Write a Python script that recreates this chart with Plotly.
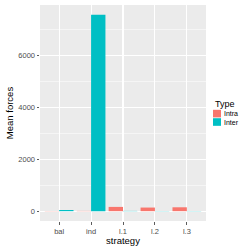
import plotly.graph_objects as go

strategy = ["bal", "ind", "l.1", "l.2", "l.3"]
intra = [8, 10, 165, 140, 150]
inter = [45, 7560, 10, 8, 8]
y_ticks = [0, 2000, 4000, 6000]
y_minor = [1000, 3000, 5000, 7000]
type_names = ["Intra", "Inter"]
type_colors = ["#F8766D", "#00BFC4"]

fig = go.Figure()
fig.add_bar(x=strategy, y=intra, name=type_names[0], marker=dict(color=type_colors[0], line=dict(width=0)))
fig.add_bar(x=strategy, y=inter, name=type_names[1], marker=dict(color=type_colors[1], line=dict(width=0)))

# panel in pixels: x 40..205.7, y 5..220.6
W, H = 249, 249
L, R, T, B = 40, 43.3, 5, 28.4
pw, ph = W - L - R, H - T - B

def px(x):
    return (x - L) / pw

def py(y):
    return (H - B - y) / ph

annotations = [dict(text="Type", x=px(212.2), y=py(103.5), xref="paper", yref="paper",
                    xanchor="left", yanchor="middle", showarrow=False,
                    font=dict(size=9, color="black"))]
shapes = []
for i, (nm, col) in enumerate(zip(type_names, type_colors)):
    top = 109.6 + i * 8.4
    shapes.append(dict(type="rect", xref="paper", yref="paper",
                       x0=px(212.7), x1=px(220.7), y0=py(top + 7.6), y1=py(top),
                       fillcolor=col, line=dict(width=0)))
    annotations.append(dict(text=nm, x=px(221.5), y=py(top + 3.8), xref="paper", yref="paper",
                            xanchor="left", yanchor="middle", showarrow=False,
                            font=dict(size=7, color="black")))

fig.update_layout(
    width=W, height=H,
    margin=dict(l=L, r=R, t=T, b=B, autoexpand=False, pad=0),
    paper_bgcolor="white", plot_bgcolor="#EBEBEB",
    barmode="group", bargap=0.1, bargroupgap=0,
    font=dict(family="Liberation Sans, Arial, sans-serif", size=7.5, color="#4D4D4D"),
    showlegend=False,
    annotations=annotations, shapes=shapes,
)
fig.update_xaxes(
    title=dict(text="strategy", font=dict(size=9.5, color="black"), standoff=1),
    showgrid=True, gridcolor="white", gridwidth=1.1,
    ticks="outside", ticklen=2.5, tickcolor="#333333", tickwidth=0.8,
    tickfont=dict(size=7.5, color="#4D4D4D"),
    zeroline=False, range=[-0.6, 4.6],
)
fig.update_yaxes(
    title=dict(text="Mean forces", font=dict(size=9.5, color="black"), standoff=2),
    range=[-378, 7938], tickvals=y_ticks,
    showgrid=True, gridcolor="white", gridwidth=1.1,
    minor=dict(showgrid=True, gridcolor="white", gridwidth=0.5, tickvals=y_minor),
    ticks="outside", ticklen=2.5, tickcolor="#333333", tickwidth=0.8,
    tickfont=dict(size=7.5, color="#4D4D4D"),
    zeroline=False,
)
fig.write_html(
    "out.html",
    config={"displayModeBar": False, "staticPlot": True},
    post_script="document.body.style.margin='0';document.body.style.overflow='hidden';",
)
